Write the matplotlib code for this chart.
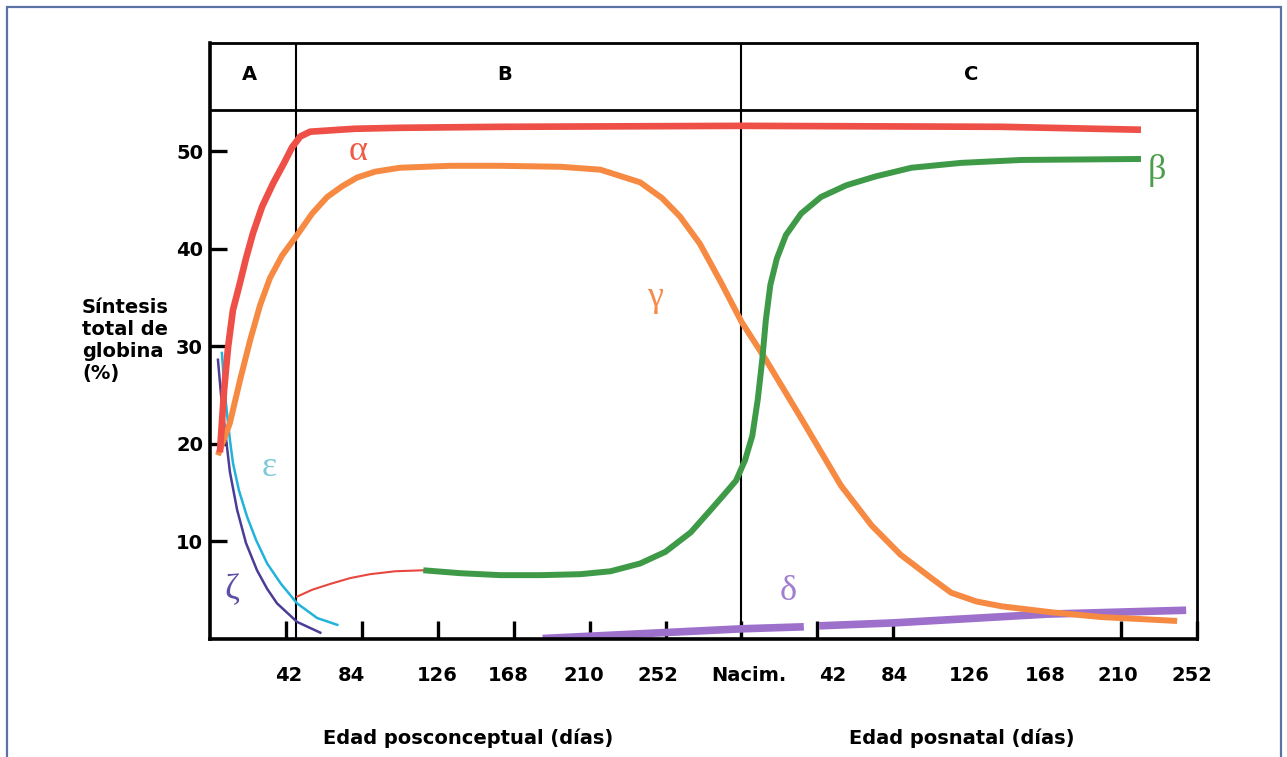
import matplotlib
matplotlib.use('Agg')
import matplotlib.pyplot as plt
from matplotlib.patches import Rectangle

# x = days since conception (birth "Nacim." = 294), y = % of total globin synthesis
alpha_x = [5.5, 7.8, 10, 12.7, 16.6, 19.9, 23.8, 28.8, 34.9, 41, 45.4, 49.9, 55.4,
           80, 105, 161, 294, 438, 515]
alpha_y = [19.1, 25.5, 29.9, 33.7, 36.5, 39.0, 41.6, 44.3, 46.7, 48.8, 50.4, 51.5, 52.0,
           52.3, 52.4, 52.5, 52.6, 52.5, 52.2]

gamma_x = [4.4, 11, 16.6, 22.2, 27.7, 33.2, 39.9, 48.2, 56.5, 64.8, 73.1, 81.4, 91.4, 105,
           133, 160.7, 194, 216, 238, 250, 260, 271, 282.5, 294, 307.5, 327, 349, 366, 382,
           399, 410, 424, 438, 465, 493, 535]
gamma_y = [18.8, 22.1, 26.5, 30.6, 34.2, 37.0, 39.3, 41.4, 43.6, 45.3, 46.4, 47.3, 47.9, 48.3,
           48.5, 48.5, 48.4, 48.1, 46.8, 45.2, 43.3, 40.5, 36.6, 32.5, 28.6, 22.6, 15.7, 11.6,
           8.6, 6.2, 4.7, 3.8, 3.3, 2.7, 2.2, 1.8]

beta_x = [118, 138.5, 160.7, 183, 205, 221.6, 238, 252, 266, 277, 285, 291, 296, 300, 303,
          305.5, 307.5, 310, 313.6, 318.6, 327, 338, 352, 368, 388, 415.5, 449, 515]
beta_y = [7.0, 6.7, 6.5, 6.5, 6.6, 6.9, 7.7, 8.9, 10.9, 13.2, 14.9, 16.2, 18.3, 20.8, 24.5,
          28.6, 32.7, 36.3, 39.0, 41.4, 43.6, 45.3, 46.5, 47.4, 48.3, 48.8, 49.1, 49.2]

# thin red link between the alpha block and the start of beta
link_x = [48.2, 56.5, 66.5, 77.6, 88.6, 102.5, 118]
link_y = [4.3, 5.0, 5.6, 6.2, 6.6, 6.9, 7.0]

eps_x = [6.6, 7.8, 9.4, 11, 12.7, 16, 20.5, 25.5, 31.6, 39.3, 48.2, 59.3, 70.4]
eps_y = [29.3, 26.0, 23.1, 20.4, 18.0, 15.2, 12.5, 10.1, 7.7, 5.6, 3.6, 2.1, 1.4]

zeta_x = [4.4, 6.1, 8.3, 11, 15, 19.9, 26, 31.6, 37.1, 48.2, 61]
zeta_y = [28.6, 25.0, 21.4, 17.1, 13.2, 9.8, 7.0, 5.1, 3.6, 1.7, 0.6]

delta1_x = [184, 295, 328.5]
delta1_y = [0.0, 1.0, 1.2]
delta2_x = [337, 378, 463, 540]
delta2_y = [1.3, 1.6, 2.5, 2.9]

tick_marks = [42, 84, 126, 168, 210, 252, 294, 336, 378, 420, 462, 504, 546]
tick_lab = ['42', '84', '126', '168', '210', '252', 'Nacim.',
            '42', '84', '126', '168', '210', '252']
tick_lab_pos = [43.8, 78.1, 125.8, 165.1, 206.6, 247.6, 298,
                344.6, 378.4, 420, 462, 502, 543]
ytick_pos = [10, 20, 30, 40, 50]

W, H = 1287, 757
fig = plt.figure(figsize=(W / 100, H / 100), dpi=100)
fig.patches.append(Rectangle((7 / W, -0.02), (1281 - 7) / W, 1 - 7 / H + 0.02,
                             transform=fig.transFigure, fill=False,
                             edgecolor='#5b72a4', linewidth=1.6))

ax = fig.add_axes([210 / W, 1 - 638.5 / H, (1197 - 210) / W, (638.5 - 43) / H])
ax.set_xlim(0, 546)
ax.set_ylim(0, 61.1)

for s in ['left', 'bottom']:
    ax.spines[s].set_linewidth(2.6)
for s in ['top', 'right']:
    ax.spines[s].set_linewidth(2.0)

ax.axhline(54.2, color='black', lw=2.0)
ax.axvline(47.6, color='black', lw=1.5)
ax.axvline(294, color='black', lw=1.5)

ax.plot(delta1_x, delta1_y, color='#9d70cc', lw=5.5, solid_capstyle='butt')
ax.plot(delta2_x, delta2_y, color='#9d70cc', lw=5.5, solid_capstyle='butt')
ax.plot(link_x, link_y, color='#e8473f', lw=1.5)
ax.plot(eps_x, eps_y, color='#22b3da', lw=1.8)
ax.plot(zeta_x, zeta_y, color='#4a3c97', lw=1.8)
ax.plot(gamma_x, gamma_y, color='#f68a42', lw=4.3, solid_capstyle='butt')
ax.plot(beta_x, beta_y, color='#3f9a48', lw=4.3, solid_capstyle='butt')
ax.plot(alpha_x, alpha_y, color='#ee5047', lw=4.8, solid_capstyle='butt')

greek = dict(family='Liberation Serif', fontsize=26, ha='center', va='center')
ax.text(82, 50.0, 'α', color='#ef5a45', **greek)
ax.text(246, 35.0, 'γ', color='#f58b4c', **greek)
ax.text(524, 48.0, 'β', color='#4a9e4a', **greek)
ax.text(33, 17.5, 'ε', color='#7ccad8', **greek)
ax.text(12, 4.9, 'ζ', color='#5b4fa6', **greek)
ax.text(320, 4.8, 'δ', color='#a07fd0', **greek)

hdr = dict(fontsize=14, fontweight='bold', ha='center', va='center')
ax.text(22, 57.9, 'A', **hdr)
ax.text(163, 57.9, 'B', **hdr)
ax.text(421, 57.9, 'C', **hdr)

# tick marks as minor ticks, labels as major ticks at their drawn positions
ax.set_xticks(tick_marks, minor=True)
ax.set_xticks(tick_lab_pos)
ax.set_xticklabels(tick_lab, fontsize=14, fontweight='bold')
ax.tick_params(axis='x', which='minor', direction='in', length=13, width=2.4)
ax.tick_params(axis='x', which='major', length=0, pad=20)
ax.set_yticks(ytick_pos)
ax.set_yticklabels([str(v) for v in ytick_pos], fontsize=14, fontweight='bold')
ax.tick_params(axis='y', direction='in', length=12, width=2.4, pad=5)

fig.text(82 / W, 1 - 298 / H, 'Síntesis\ntotal de\nglobina\n(%)', fontsize=14,
         fontweight='bold', ha='left', va='top', linespacing=1.2)
fig.text(468 / W, 1 - 738 / H, 'Edad posconceptual (días)', fontsize=14,
         fontweight='bold', ha='center', va='center')
fig.text(962 / W, 1 - 738 / H, 'Edad posnatal (días)', fontsize=14,
         fontweight='bold', ha='center', va='center')

fig.savefig('out.png', dpi=100)
